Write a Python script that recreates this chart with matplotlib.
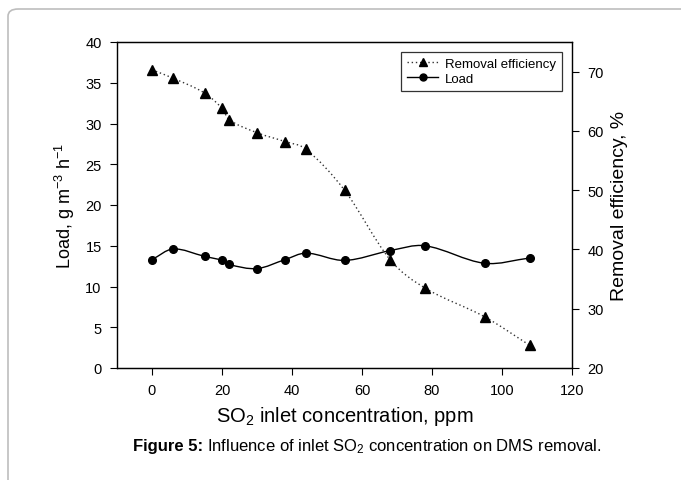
import numpy as np
import matplotlib
matplotlib.use('Agg')
import matplotlib.pyplot as plt
from matplotlib.path import Path
from matplotlib.patches import PathPatch, FancyBboxPatch
from matplotlib.lines import Line2D

plt.rcParams['font.family'] = ['Liberation Sans', 'DejaVu Sans']
plt.rcParams['mathtext.fontset'] = 'custom'
plt.rcParams['mathtext.rm'] = 'Liberation Sans'
plt.rcParams['mathtext.it'] = 'Liberation Sans'
plt.rcParams['mathtext.bf'] = 'Liberation Sans:bold'

# SO2 inlet concentration, ppm
so2 = [0, 6, 15, 20, 22, 30, 38, 44, 55, 68, 78, 95, 108]
# load, g m-3 h-1 (left axis)
load = [13.3, 14.6, 13.7, 13.2, 12.7, 12.2, 13.3, 14.1, 13.2, 14.4, 15.0, 12.85, 13.5]
# removal efficiency, % (right axis)
removal = [70.3, 68.9, 66.4, 63.8, 61.9, 59.7, 58.2, 56.9, 50.0, 38.3, 33.5, 28.65, 23.8]


def smooth_path(x, y):
    # cubic Hermite segments written as Bezier curves (smoothed line)
    x = np.asarray(x, float)
    y = np.asarray(y, float)
    n = len(x)
    m = np.zeros(n)
    m[0] = (y[1] - y[0]) / (x[1] - x[0])
    m[-1] = (y[-1] - y[-2]) / (x[-1] - x[-2])
    for i in range(1, n - 1):
        m[i] = (y[i + 1] - y[i - 1]) / (x[i + 1] - x[i - 1])
    verts = [(x[0], y[0])]
    codes = [Path.MOVETO]
    for i in range(n - 1):
        h = x[i + 1] - x[i]
        verts += [(x[i] + h / 3, y[i] + m[i] * h / 3),
                  (x[i + 1] - h / 3, y[i + 1] - m[i + 1] * h / 3),
                  (x[i + 1], y[i + 1])]
        codes += [Path.CURVE4] * 3
    return Path(verts, codes)


fig = plt.figure(figsize=(6.81, 4.81), dpi=100)

border = FancyBboxPatch((8 / 681, -0.1), 1.1, 0.1 + 471 / 481,
                        boxstyle='round,pad=0,rounding_size=0.015',
                        transform=fig.transFigure, fill=False,
                        edgecolor='#bdbdbd', lw=1.2)
fig.patches.append(border)

ax = fig.add_axes([117 / 681, 1 - 369 / 481, (572 - 117) / 681, (369 - 43) / 481])
ax2 = ax.twinx()

ax.set_xlim(-10, 120)
ax.set_ylim(0, 40)
ax2.set_ylim(20, 75)

ax.set_xticks(np.arange(0, 121, 20))
ax.set_yticks(np.arange(0, 41, 5))
ax2.set_yticks(np.arange(20, 71, 10))

# load: solid smooth curve with circles
ax.add_patch(PathPatch(smooth_path(so2, load), fill=False, edgecolor='black', lw=1.0))
ax.plot(so2, load, 'o', color='black', ms=5.5, zorder=5)

# removal efficiency: dotted smooth curve with triangles
ax2.add_patch(PathPatch(smooth_path(so2, removal), fill=False, edgecolor='#333333',
                        lw=1.0, linestyle=(0, (1, 2))))
ax2.plot(so2, removal, '^', color='black', ms=6.5, zorder=5)

for a in (ax, ax2):
    a.tick_params(direction='out', length=5, width=0.8, labelsize=10.5, colors='black', pad=6)
    for s in a.spines.values():
        s.set_linewidth(0.9)
ax.spines['left'].set_color('#444444')
ax.spines['right'].set_color('#444444')

ax.set_ylabel('Load, g m$^{-3}$ h$^{-1}$', fontsize=13, labelpad=6)
ax2.set_ylabel('Removal efficiency, %', fontsize=14, labelpad=5)
ax.set_xlabel('SO$_2$ inlet concentration, ppm', fontsize=14.5, labelpad=5)

h1 = Line2D([], [], color='#333333', lw=1.0, linestyle=(0, (1, 2)), marker='^',
            mfc='black', mec='black', ms=6)
h2 = Line2D([], [], color='black', lw=1.0, marker='o', ms=5)
leg = ax2.legend([h1, h2], ['Removal efficiency', 'Load'], loc='upper right',
                 bbox_to_anchor=(0.978, 0.97), fontsize=9.5, frameon=True, fancybox=False,
                 edgecolor='black', handlelength=2.4, borderpad=0.45, labelspacing=0.2,
                 handletextpad=0.5, borderaxespad=0)
leg.get_frame().set_linewidth(0.9)

# caption: bold prefix followed by plain text
cap_y = 1 - 447 / 481
t1 = fig.text(133 / 681, cap_y, 'Figure 5:', ha='left', va='center',
              fontsize=12, fontweight='bold')
fig.canvas.draw()
bb = t1.get_window_extent()
fig.text((bb.x1 + 4) / 681, cap_y,
         'Influence of inlet SO$_2$ concentration on DMS removal.',
         ha='left', va='center', fontsize=12)

fig.savefig('out.png', dpi=100)
